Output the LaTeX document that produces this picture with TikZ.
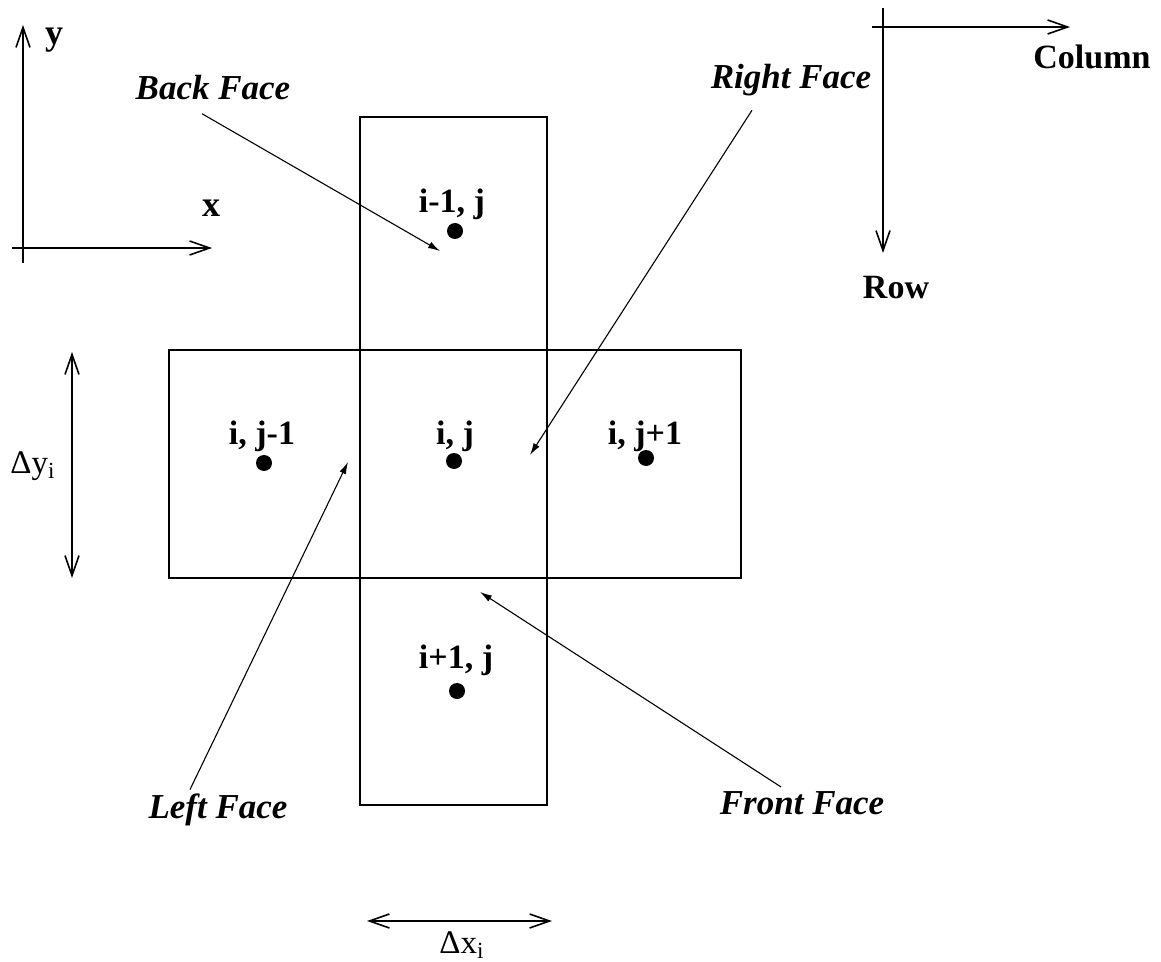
\documentclass[tikz,border=0pt]{standalone}
\usepackage{fontspec}
\setmainfont{Liberation Serif}
\usetikzlibrary{arrows.meta}

\begin{document}
\begin{tikzpicture}[x=0.5pt,y=-0.5pt,
   font=\bfseries\fontsize{17}{20}\selectfont,
   axis/.style={line width=0.8pt,-{Straight Barb[length=10pt,width=7pt]}},
   span/.style={line width=0.8pt,{Straight Barb[length=10pt,width=7pt]}-{Straight Barb[length=10pt,width=7pt]}},
   face/.style={line width=0.55pt,-{Latex[length=6pt,width=3.5pt]}},
   facelabel/.style={font=\bfseries\itshape\fontsize{17.5}{20}\selectfont,inner sep=1pt},
   sizelabel/.style={font=\mdseries\fontsize{16.5}{18}\selectfont,inner sep=0pt},
   cellbox/.style={line width=0.6pt},
   dot/.style={circle,fill,inner sep=0pt,minimum size=8pt}]
  \useasboundingbox (0,0) rectangle (1161,962);

  % cells
  \draw[cellbox] (360,117) rectangle (547,805);
  \draw[cellbox] (169,350) rectangle (741,578);
  \node[inner sep=0pt] (lup)    at (452,204) {i-1, j};
  \node[inner sep=0pt] (lleft)  at (262,436) {i, j-1};
  \node[inner sep=0pt] (lmid)   at (455,436) {i, j};
  \node[inner sep=0pt] (lright) at (645,436) {i, j+1};
  \node[inner sep=0pt] (ldown)  at (456,660) {i+1, j};
  \node[dot] (pup)    at (455,231) {};
  \node[dot] (pleft)  at (264,463) {};
  \node[dot] (pmid)   at (454,461) {};
  \node[dot] (pright) at (646,458) {};
  \node[dot] (pdown)  at (457,691) {};

  % face labels
  \node[facelabel] (back)  at (213,88)  {Back Face};
  \node[facelabel] (right) at (791,80)  {Right Face};
  \node[facelabel] (left)  at (218,810) {Left Face};
  \node[facelabel] (front) at (802,803) {Front Face};
  \coordinate (backtip)  at (440,251);
  \coordinate (righttip) at (530,455);
  \coordinate (lefttip)  at (348,462);
  \coordinate (fronttip) at (480,592);
  \draw[face] ([xshift=-5.5pt,yshift=-5.5pt]back.south) -- (backtip);
  \draw[face] ([xshift=-19.5pt,yshift=-6pt]right.south) -- (righttip);
  \draw[face] ([xshift=-14pt,yshift=1pt]left.north) -- (lefttip);
  \draw[face] ([xshift=-10.5pt,yshift=1pt]front.north) -- (fronttip);

  % x-y axes
  \coordinate (ybot) at (23,263);
  \coordinate (ytop) at (23,25);
  \coordinate (xbeg) at (12,248);
  \coordinate (xend) at (212,248);
  \draw[axis] (ybot) -- (ytop);
  \draw[axis] (xbeg) -- (xend);
  \node[font=\bfseries\fontsize{18}{20}\selectfont] (ylab) at (54,40) {y};
  \node[font=\bfseries\fontsize{18}{20}\selectfont] (xlab) at (211,208) {x};

  % row-column axes
  \coordinate (rbeg) at (883,8);
  \coordinate (rend) at (883,253);
  \coordinate (cbeg) at (872,27);
  \coordinate (cend) at (1070,27);
  \draw[axis] (rbeg) -- (rend);
  \draw[axis] (cbeg) -- (cend);
  \node (col) at (1092,57)  {Column};
  \node (row) at (896,288) {Row};

  % cell sizes
  \coordinate (dytop) at (72,352);
  \coordinate (dybot) at (72,578);
  \coordinate (dxbeg) at (367,921);
  \coordinate (dxend) at (552,921);
  \draw[span] (dytop) -- (dybot);
  \draw[span] (dxbeg) -- (dxend);
  \node[sizelabel] (dy) at (33,466) {Δy\textsubscript{i}};
  \node[sizelabel] (dx) at (462,945) {Δx\textsubscript{i}};
\end{tikzpicture}
\end{document}
